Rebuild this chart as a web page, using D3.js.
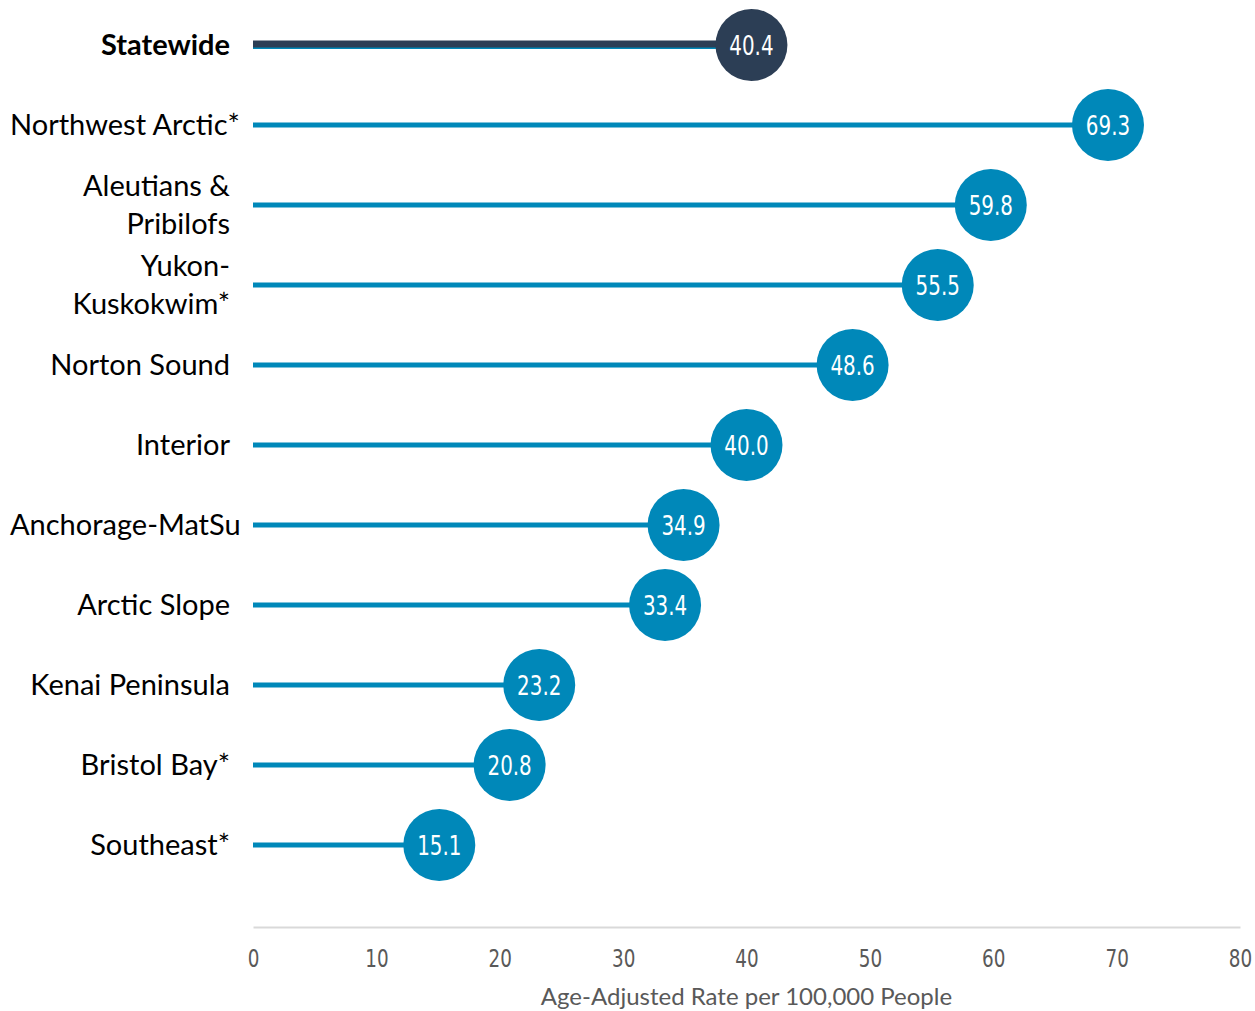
<!DOCTYPE html>
<html>
<head>
<meta charset="utf-8">
<script src="https://cdn.jsdelivr.net/npm/d3@7"></script>
<style>
  body { margin: 0; background: #fff; }
  svg { display: block; }
</style>
</head>
<body>
<div id="chart"></div>
<script>
const regions = ["Statewide", "Northwest Arctic*", "Aleutians & Pribilofs", "Yukon-Kuskokwim*",
  "Norton Sound", "Interior", "Anchorage-MatSu", "Arctic Slope", "Kenai Peninsula",
  "Bristol Bay*", "Southeast*"]
const rates = [40.4, 69.3, 59.8, 55.5, 48.6, 40.0, 34.9, 33.4, 23.2, 20.8, 15.1]
const labelLines = {
  "Aleutians & Pribilofs": ["Aleutians &", "Pribilofs"],
  "Yukon-Kuskokwim*": ["Yukon-", "Kuskokwim*"]
}
const xTicks = [0, 10, 20, 30, 40, 50, 60, 70, 80]
const xTitle = "Age-Adjusted Rate per 100,000 People"

const data = regions.map((r, i) => ({region: r, value: rates[i]}))

const width = 1255
const height = 1011
const margin = {top: 4, right: 15, bottom: 84, left: 253}
const blue = "#0088b9"
const navy = "#2c3e55"
const condensed = "'Liberation Sans Narrow', 'DejaVu Sans Condensed', sans-serif"

const svg = d3.select("#chart")
  .append("svg")
  .attr("width", width)
  .attr("height", height)

const x = d3.scaleLinear()
  .domain([0, 80])
  .range([margin.left, width - margin.right])

const y = d3.scalePoint()
  .domain(regions)
  .range([45, 845])

// axis
const axis = svg.append("g")
  .attr("transform", `translate(0,927)`)
  .call(d3.axisBottom(x).tickValues(xTicks).tickSize(0).tickPadding(22))
axis.select(".domain").attr("stroke", "#d9d9d9").attr("stroke-width", 2)
axis.selectAll(".tick text")
  .attr("fill", "#595959")
  .attr("font-family", condensed)
  .attr("font-size", 24)
  .attr("dy", "0.75em")
  .attr("transform", "scale(0.85,1)")

svg.append("text")
  .attr("x", (x(0) + x(80)) / 2)
  .attr("y", 1005)
  .attr("text-anchor", "middle")
  .attr("fill", "#595959")
  .attr("font-family", "Lato, sans-serif")
  .attr("font-size", 24)
  .text(xTitle)

// lollipop stems
const rows = svg.append("g")
  .selectAll("g")
  .data(data)
  .join("g")
  .attr("transform", d => `translate(0,${y(d.region)})`)

rows.append("line")
  .attr("x1", x(0))
  .attr("x2", d => x(d.value))
  .attr("y1", d => d.region === "Statewide" ? 1.5 : 0)
  .attr("y2", d => d.region === "Statewide" ? 1.5 : 0)
  .attr("stroke", blue)
  .attr("stroke-width", 5)

rows.filter(d => d.region === "Statewide")
  .append("line")
  .attr("x1", x(0))
  .attr("x2", d => x(d.value))
  .attr("y1", -1)
  .attr("y2", -1)
  .attr("stroke", navy)
  .attr("stroke-width", 7)

rows.append("circle")
  .attr("cx", d => x(d.value))
  .attr("r", 36)
  .attr("fill", d => d.region === "Statewide" ? navy : blue)

rows.append("text")
  .attr("transform", d => `translate(${x(d.value)},0) scale(0.82,1)`)
  .attr("dy", "0.36em")
  .attr("text-anchor", "middle")
  .attr("fill", "#fff")
  .attr("font-family", condensed)
  .attr("font-size", 27)
  .text(d => d.value.toFixed(1))

// category labels
const labels = rows.append("text")
  .attr("text-anchor", "end")
  .attr("x", 230)
  .attr("fill", "#000")
  .attr("font-family", "Lato, sans-serif")
  .attr("font-size", 29)
  .attr("font-weight", d => d.region === "Statewide" ? "bold" : "normal")

labels.each(function(d) {
  const lines = labelLines[d.region] || [d.region]
  const t = d3.select(this)
  lines.forEach((ln, i) => {
    t.append("tspan")
      .attr("x", 230)
      .attr("y", (i - (lines.length - 1) / 2) * 38)
      .attr("dy", "0.35em")
      .text(ln)
  })
  // long single-line labels spill right instead of past the left edge
  const w = this.getBBox().width
  if (lines.length === 1 && 230 - w < 10) {
    t.selectAll("tspan").attr("x", 10 + w)
  }
})
</script>
</body>
</html>
